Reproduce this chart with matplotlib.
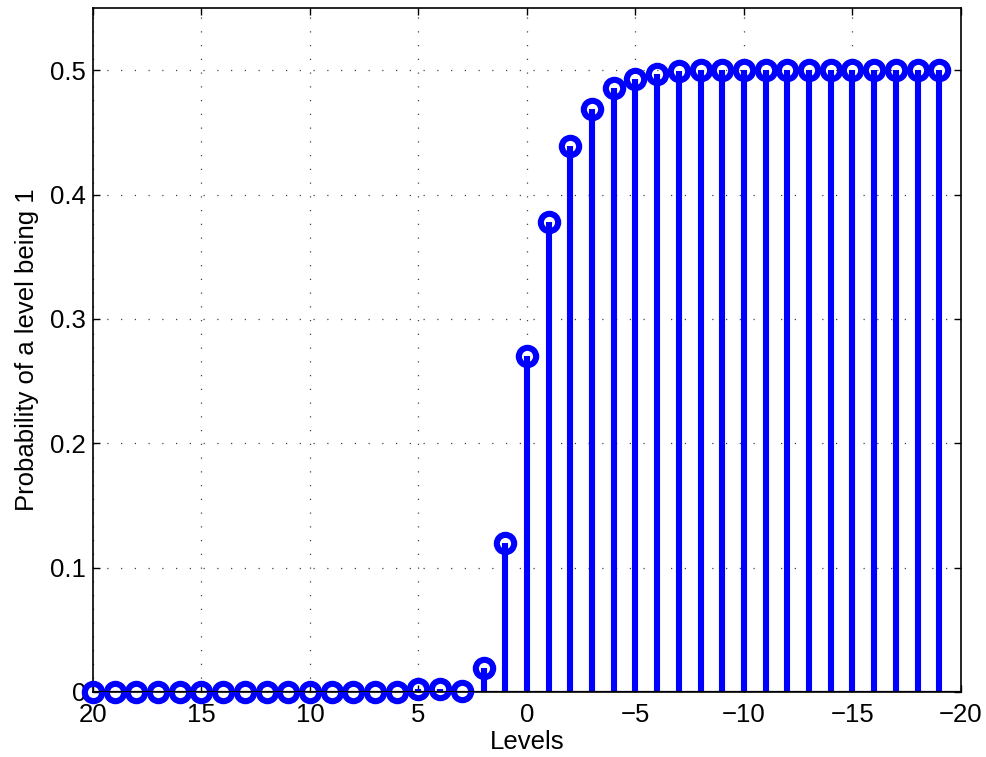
import matplotlib

matplotlib.use("Agg")
import matplotlib.pyplot as plt
import numpy as np

plt.rcParams["font.family"] = ["Liberation Sans", "DejaVu Sans"]

# levels run from 20 down to -19
levels = np.arange(20, -20, -1)
probs = [
    0.0, 0.0, 0.0, 0.0, 0.0, 0.0, 0.0, 0.0, 0.0, 0.0,      # 20..11
    0.0, 0.0, 0.0, 0.0, 0.0, 0.002, 0.002, 0.001, 0.019, 0.120,  # 10..1
    0.270, 0.378, 0.439, 0.469, 0.486, 0.493, 0.497, 0.499, 0.500, 0.500,  # 0..-9
    0.500, 0.500, 0.500, 0.500, 0.500, 0.500, 0.500, 0.500, 0.500, 0.500,  # -10..-19
]
x_ticks = [20, 15, 10, 5, 0, -5, -10, -15, -20]
y_ticks = [0, 0.1, 0.2, 0.3, 0.4, 0.5]
y_labels = ["0", "0.1", "0.2", "0.3", "0.4", "0.5"]

FS = 18.5

fig = plt.figure(figsize=(9.87, 7.57), dpi=100)
ax = fig.add_axes([0.0942, 0.0859, 0.8794, 0.9036])

ax.vlines(levels, 0, probs, color="#0000ff", lw=4.4, zorder=3)
ax.plot(levels, probs, "o", mfc="none", mec="#0000ff", mew=4.4, ms=12.5,
        zorder=4, clip_on=False)
ax.axhline(0, color="black", lw=1.6, zorder=5)

ax.set_xlim(20, -20)
ax.set_ylim(0, 0.55)
ax.set_xticks(x_ticks)
ax.set_yticks(y_ticks)
ax.set_yticklabels(y_labels)
ax.tick_params(direction="in", top=True, right=True, labelsize=FS, length=5, width=1)
ax.tick_params(axis="x", pad=8)
ax.tick_params(axis="y", pad=5)
ax.grid(True, linestyle=(0, (1, 10)), color="#444444", lw=0.9)
for s in ax.spines.values():
    s.set_linewidth(1.2)

ax.set_xlabel("Levels", fontsize=FS, labelpad=2)
ax.set_ylabel("Probability of a level being 1", fontsize=FS, labelpad=8)

fig.savefig("out.png", dpi=100, facecolor="white")
